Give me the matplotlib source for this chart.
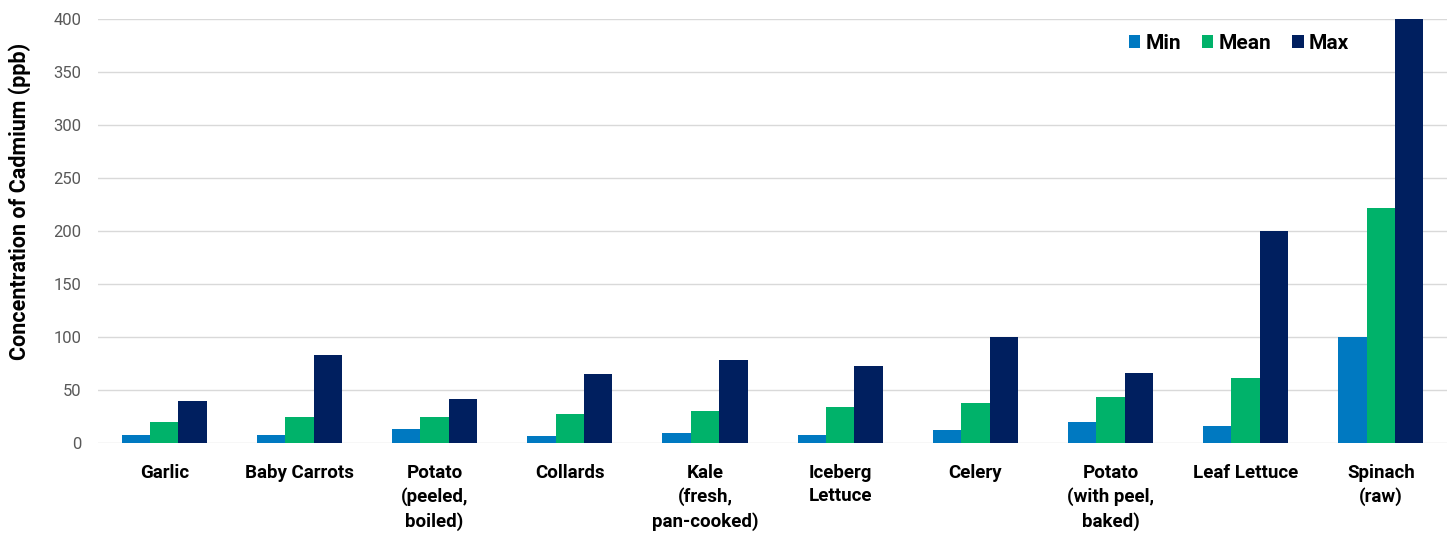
import numpy as np
import matplotlib
matplotlib.use('Agg')
import matplotlib.pyplot as plt

plt.rcParams['font.family'] = ['Roboto', 'DejaVu Sans']

#%% data
categories = ['Garlic', 'Baby Carrots', 'Potato\n(peeled,\nboiled)', 'Collards',
              'Kale\n(fresh,\npan-cooked)', 'Iceberg\nLettuce', 'Celery',
              'Potato\n(with peel,\nbaked)', 'Leaf Lettuce', 'Spinach\n(raw)']
min_vals = [8, 8, 13, 7, 9, 8, 12, 20, 16, 100]
mean_vals = [20, 25, 25, 27, 30, 34, 38, 43, 61, 222]
max_vals = [40, 83, 42, 65, 78, 73, 100, 66, 200, 400]
y_ticks = np.arange(0, 401, 50)

#%% plot
fig = plt.figure(figsize=(14.5, 5.37), dpi=100)
ax = fig.add_axes([0.0676, 0.175, 0.9304, 0.7896])

x = np.arange(len(categories))
w = 0.21
ax.bar(x - w, min_vals, w, color='#0079C1', label='Min', zorder=3)
ax.bar(x, mean_vals, w, color='#00B26A', label='Mean', zorder=3)
ax.bar(x + w, max_vals, w, color='#001F5F', label='Max', zorder=3)

ax.set_xlim(-0.49, len(categories) - 0.51)
ax.set_ylim(0, 400)
ax.set_yticks(y_ticks)
ax.set_xticks(x)
ax.set_xticklabels(categories, fontsize=13.5, fontweight='bold', linespacing=1.38,
                   va='top')
ax.tick_params(axis='both', length=0)
ax.tick_params(axis='y', labelsize=12, labelcolor='#595959', pad=12)
ax.tick_params(axis='x', pad=15)
ax.grid(axis='y', color='#d9d9d9', linewidth=1, zorder=0)
for s in ax.spines.values():
    s.set_visible(False)

ax.set_ylabel('Concentration of Cadmium (ppb)', fontsize=15.5, fontweight='bold')
ax.yaxis.set_label_coords(-0.050, 0.57)

ax.legend(loc='center right', bbox_to_anchor=(0.935, 0.943), ncol=3, frameon=False,
          prop={'size': 15, 'weight': 'bold'}, handlelength=0.55, handleheight=0.55,
          handletextpad=0.25, columnspacing=1.0, borderpad=0)

plt.savefig('out.png', dpi=100)
